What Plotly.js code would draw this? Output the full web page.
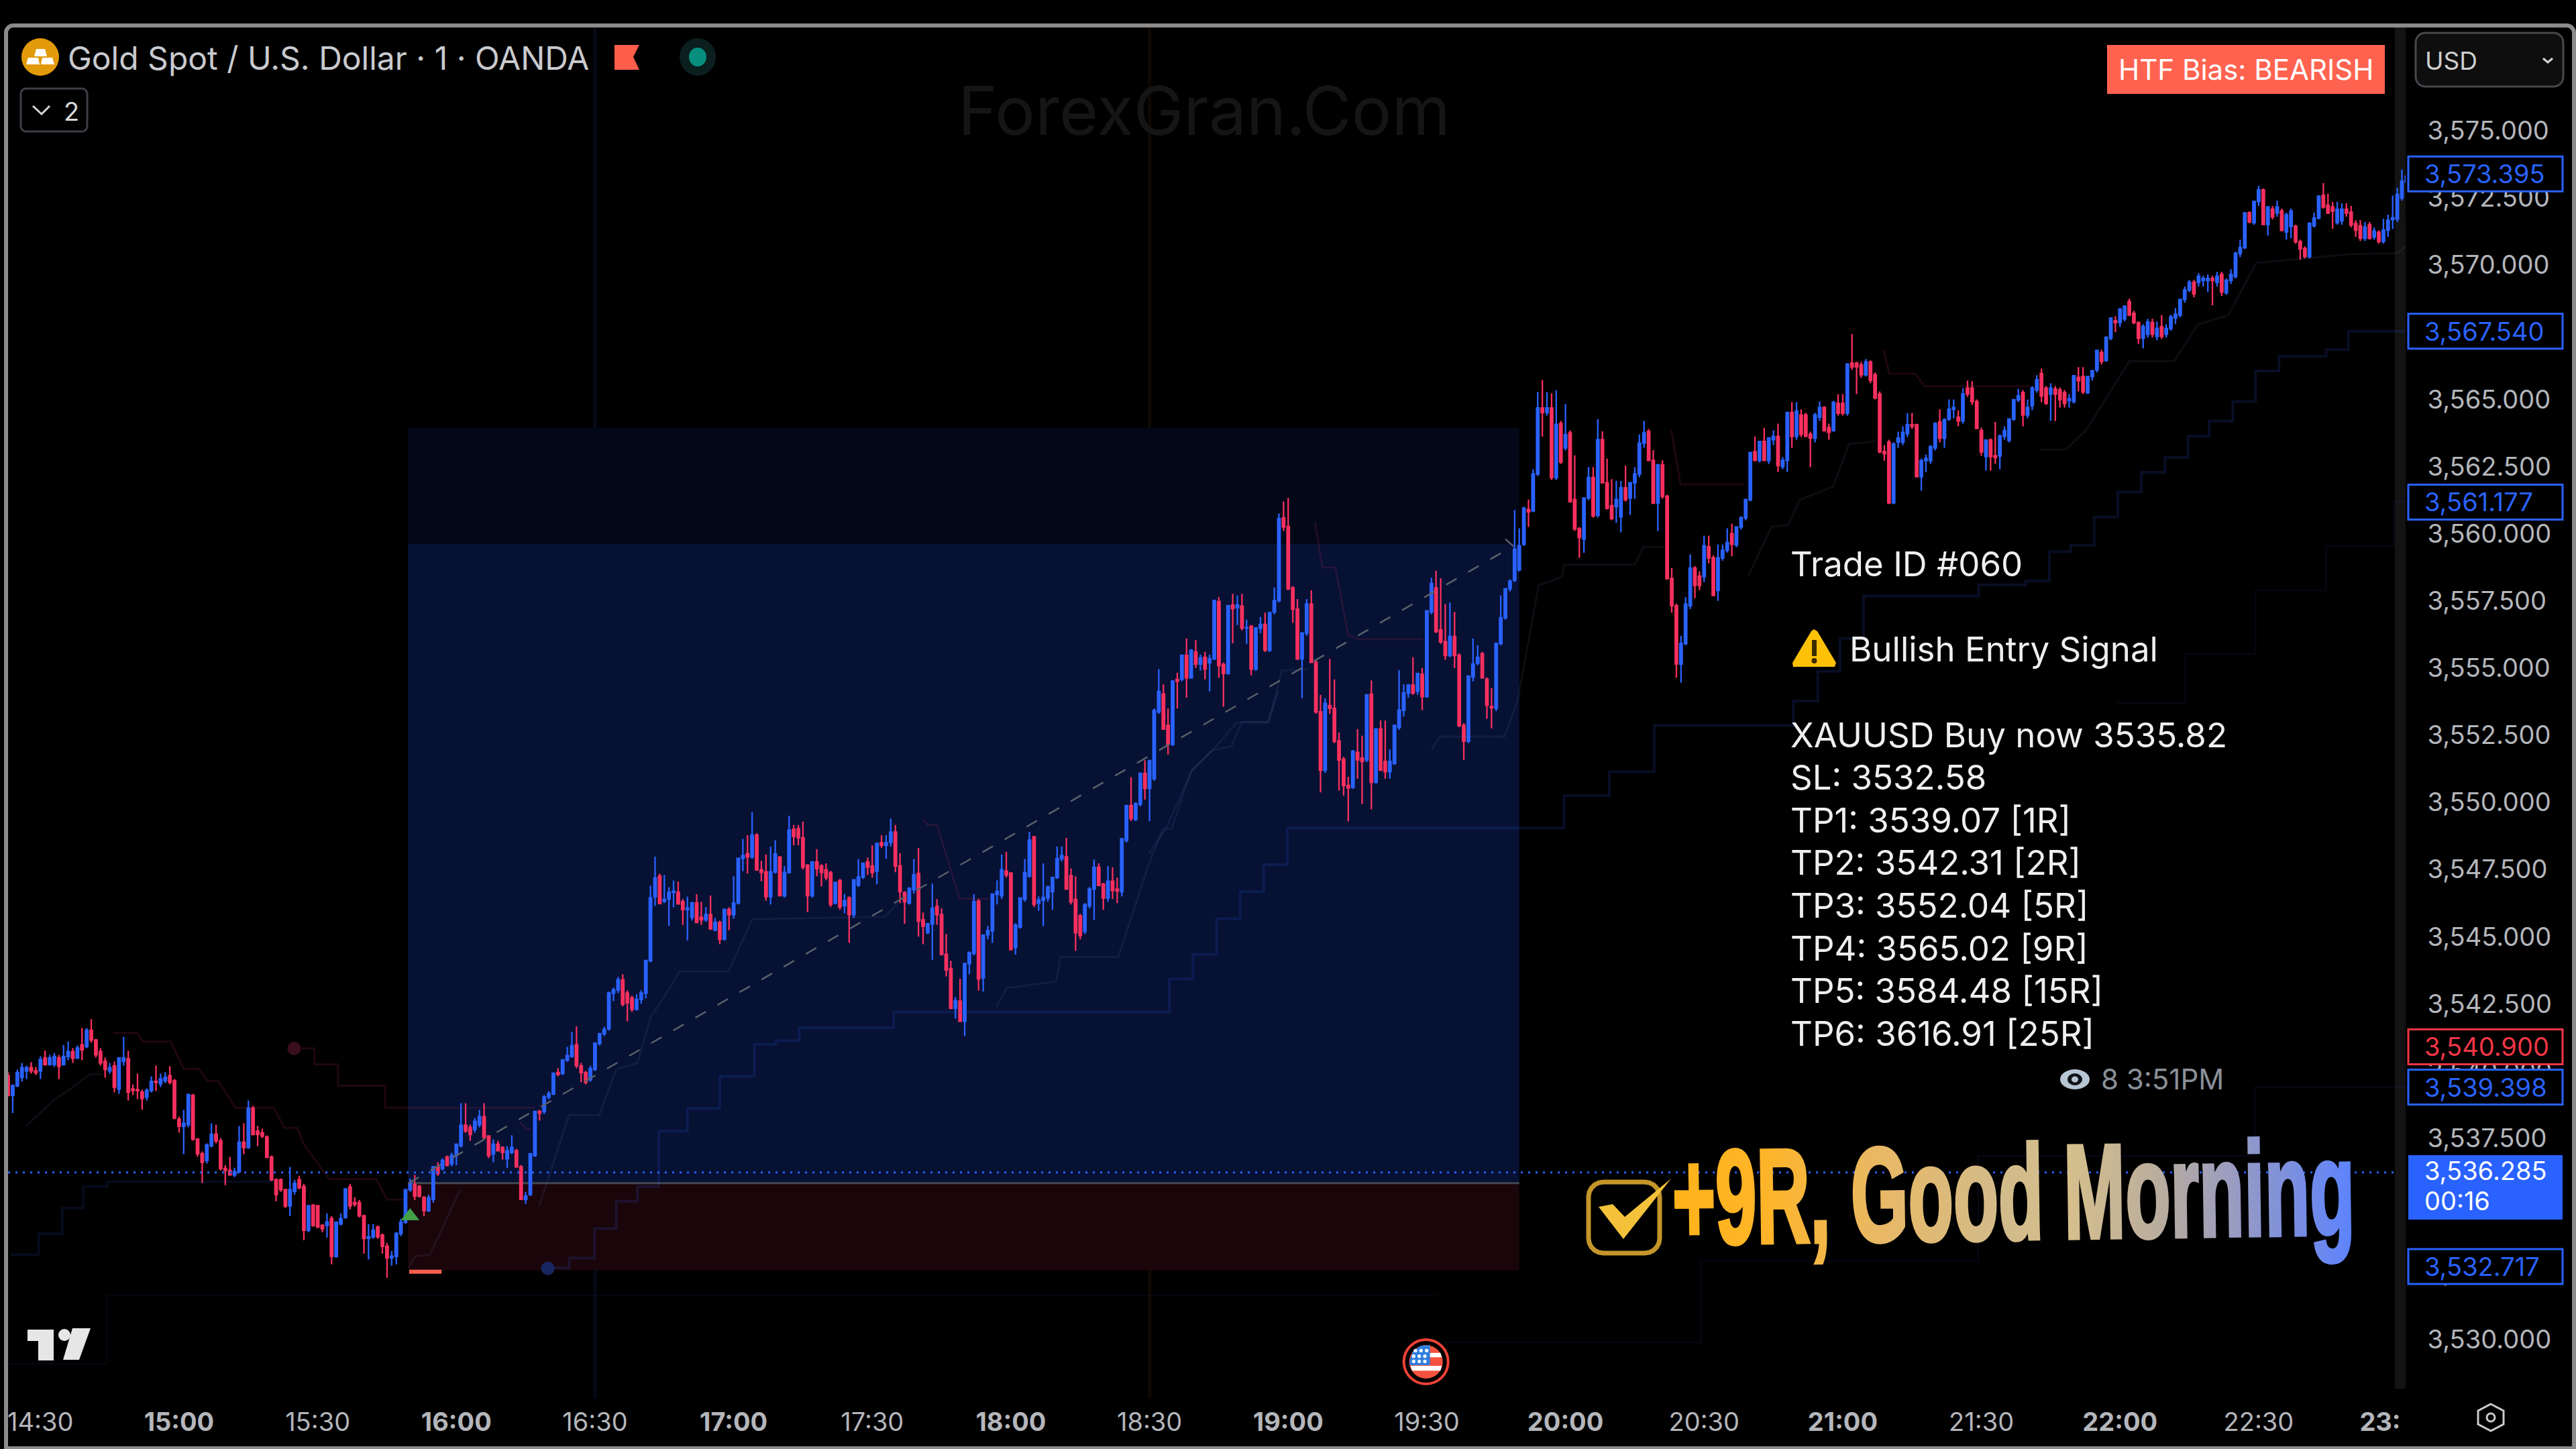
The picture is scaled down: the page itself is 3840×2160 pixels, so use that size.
<!DOCTYPE html>
<html><head><meta charset="utf-8">
<script src="https://cdn.plot.ly/plotly-3.0.1.min.js"></script>
<style>
html,body{margin:0;padding:0;background:#000;width:3840px;height:2160px;overflow:hidden}
#chart{position:absolute;left:0;top:0;width:3840px;height:2160px}
#frame{position:absolute;left:6px;top:35px;width:3822px;height:2115px;border:6px solid #8b8b8b;border-radius:14px 14px 0 0;pointer-events:none}
#big{position:absolute;left:2493px;top:1686px;font:bold 166px "Liberation Sans Narrow","Liberation Sans",sans-serif;white-space:nowrap;line-height:1.2;transform-origin:left center;-webkit-text-stroke:5px transparent;
background:linear-gradient(90deg,#ffb31a 0%,#fdb429 14%,#e9b864 30%,#d2bb8b 48%,#d6bf8c 58%,#b7ac9f 72%,#9a9cc0 82%,#5b82ff 100%);-webkit-background-clip:text;background-clip:text;color:transparent}
</style></head><body>
<div id="chart"></div><div id="big">+9R, Good Morning</div><div id="frame"></div>
<script>
// Candles: one row per minute, [open, high, low, close], price minus priceBase. First row is 14:23.
const priceBase = 3500;
const firstBarMinute = -37; // minutes relative to 15:00
const barsA = [
[39.82,39.95,39.05,39.09],[39.09,39.5,38.43,39.45],[39.45,40.05,39.4,39.94],[39.76,40.3,39.6,40.12],[40,40.2,39.7,40.12],[40.12,40.33,39.9,40.0],[40.0,40.15,39.85,39.94],[40.0,40.55,39.7,40.42],[40.48,40.76,40.2,40.24],[40.24,40.6,40.2,40.48],
[40.24,40.67,40.15,40.54],[40.48,40.6,39.7,40.18],[40.24,40.97,40.2,40.54],[40.54,41.1,40.4,40.72],[40.72,40.85,40.3,40.48],[40.48,40.95,40.45,40.85],[40.97,41.6,40.4,40.79],[40.91,41.6,40.85,41.51],[41.51,41.93,41.05,41.15],[41.15,41.2,40.5,40.6],
[40.72,40.85,40.2,40.3],[40.36,40.5,39.75,40.06],[40,40.3,39.9,40.12],[40.18,40.35,39.2,39.4],[39.33,40.5,39.15,40.48],[40.36,41.27,40.2,40.48],[40.45,40.75,38.9,39.21],[39.33,39.5,39.1,39.27],[39.3,39.9,38.95,39.27],[39.21,39.3,38.55,38.97],
[39.03,39.35,38.9,39.27],[39.27,39.8,39.2,39.61],[39.61,40.2,39.25,39.58],[39.52,39.9,39.4,39.7],[39.64,39.95,39.55,39.76],[39.82,40.18,39.5,39.58],[39.64,39.7,38.2,38.25],[38.2,38.3,37.7,37.94],[37.94,38.55,36.9,38.05],[38.0,39.15,37.9,39.12],
[39.09,39.15,37.4,37.46],[37.46,37.5,36.8,36.92],[36.92,37.0,35.83,36.6],[36.67,37.3,36.55,37.24],[37.22,38.05,37.15,37.64],[37.64,38.0,37.3,37.4],[37.4,37.5,36.3,36.37],[36.37,36.5,35.75,36.3],[36.3,36.8,36.1,36.13],[36.13,36.4,36.05,36.25],
[36.25,37.95,36.2,37.34],[37.34,38.05,36.9,37.15],[37.15,38.9,37.1,38.61],[38.61,38.7,37.6,37.64],[37.76,37.95,37.2,37.64],[37.7,37.85,37.5,37.58],[37.54,37.6,36.75,36.79],[36.79,36.85,35.9,35.95],[35.95,36.0,35.15,35.4],[35.95,36.0,35.5,35.58],
[35.58,35.6,34.9,34.98],[34.98,36.43,34.6,35.58],[35.52,35.95,35.4,35.82],[35.95,36.1,35.6,35.65],[35.7,35.8,33.7,34.07],[34.07,34.95,34.0,34.98],[35.0,35.05,34.2,34.25],[34.98,35.0,34.15,34.19],[34.25,34.3,34.0,34.13],[34.25,34.7,33.8,34.37],
[34.5,34.6,32.8,33.1],[33.1,34.4,33.05,34.37],[34.31,34.7,34.25,34.5],[34.55,35.65,34.5,35.6],[35.68,35.8,34.85,34.98],[35.1,35.3,34.95,35.04],[35.1,35.2,34.55,34.61],[34.61,34.65,33.2,33.77],[33.77,34.3,32.98,33.83],[33.83,34.3,33.75,34.07],
[34.19,34.25,33.75,33.83],[33.89,33.95,33.2,33.47],[33.47,33.6,32.3,33.04],[33.04,33.3,32.75,33.1],[33.1,34.0,32.8,33.95],[33.95,34.5,33.85,34.37],[34.37,35.6,34.3,35.58],[35.58,36.0,35.5,35.82],[35.76,36.13,35.2,35.34],[35.7,35.75,35.3,35.34]
];
const barsB = [
[35.28,35.35,34.6,34.8],[34.8,35.4,34.75,35.28],[35.22,36.45,35.1,36.43],[36.43,36.6,36.1,36.19],[36.37,36.75,36.3,36.67],[36.79,36.85,36.45,36.49],[36.55,36.95,36.45,36.85],[36.85,37.3,36.5,37.27],[37.22,38.8,37.15,37.98],[37.98,38.8,37.7,37.76],
[37.9,38.0,37.4,37.64],[37.82,38.25,37.7,38.12],[38.0,38.55,37.9,38.3],[38.3,38.8,37.5,37.52],[37.58,37.6,36.75,36.85],[36.91,37.45,36.6,37.27],[37.27,37.4,37.0,37.03],[37.15,37.2,36.7,36.97],[36.73,37.2,36.4,37.03],[36.97,37.6,36.9,37.15],
[37.03,37.1,36.4,36.43],[36.43,36.5,35.2,35.22],[35.22,35.5,35.05,35.34],[35.4,36.95,35.35,36.91],[36.85,38.5,36.8,38.49],[38.49,38.55,38.15,38.43],[38.49,39.1,38.4,39.03],[39.03,39.25,38.95,39.15],[39.15,39.95,39.1,39.91],[39.94,40.1,39.8,39.88],
[39.91,40.45,39.85,40.4],[40.4,40.9,40.35,40.57],[40.54,41.45,40.5,40.93],[40.97,41.66,40.1,40.2],[40.18,40.3,39.58,39.94],[39.94,40.0,39.5,39.58],[39.67,40.2,39.6,40.08],[40.06,41.05,40.0,41.03],[41.03,41.4,40.95,41.39],[41.39,41.65,41.3,41.54],
[41.57,42.95,41.5,42.9],[42.9,43.1,42.6,43.02],[43.02,43.5,42.9,43.39],[43.39,43.6,42.4,42.48],[42.9,43.0,41.85,42.54],[42.72,42.8,42.2,42.3],[42.3,42.85,42.25,42.66],[42.66,43.0,42.5,42.9],[42.9,44.1,42.7,44.11],[44.1,46.9,44.05,46.44],
[46.49,47.98,46.15,47.19],[47.25,47.35,46.2,46.24],[46.32,47.3,46.25,46.38],[46.4,46.84,45.4,46.65],[46.65,47.09,46.09,46.69],[46.65,47.05,46.2,46.22],[46.3,46.4,45.44,46.01],[46.01,46.49,44.86,46.06],[45.72,46.3,45.6,46.25],[46.25,46.58,45.5,45.53],
[45.72,46.3,45.44,45.63],[45.63,46.1,45.55,45.82],[45.82,46.53,45.25,45.29],[45.24,45.7,45.2,45.53],[45.53,45.6,44.72,44.91],[44.91,46.05,44.85,46.01],[46.01,46.1,45.24,45.82],[45.82,47.25,45.67,46.25],[46.25,47.95,46.2,47.92],[47.92,48.64,47.44,48.02],
[48.09,48.78,47.35,47.97],[47.97,49.64,47.9,48.78],[48.78,48.85,47.45,47.49],[47.49,47.82,47.06,47.39],[47.41,48.06,46.34,46.49],[46.49,48.35,46.2,47.41],[47.41,48.59,47.35,48.08],[47.96,48.0,46.5,46.53],[46.53,47.63,46.45,47.39],[47.39,49.5,47.35,48.97],
[48.99,49.16,48.4,48.73],[49.02,49.16,48.4,48.68],[48.68,49.28,47.5,47.59],[47.66,47.7,45.91,46.53],[46.53,47.8,46.45,47.78],[47.78,48.26,47.25,47.54],[47.63,47.7,46.87,47.39],[47.49,47.73,47.1,47.2],[47.39,47.45,46.1,46.2],[46.25,47.05,46.2,47.01]
];
const barsC = [
[47.09,47.15,46.0,46.1],[46.15,46.58,45.87,46.34],[46.44,46.5,44.77,45.82],[45.82,47.1,45.7,47.11],[46.92,47.89,46.85,47.22],[47.22,47.75,47.15,47.73],[47.78,47.95,47.3,47.59],[47.63,48.4,47.2,47.39],[47.44,48.5,46.95,48.47],[48.49,48.78,48.3,48.4],
[48.4,48.78,47.9,48.49],[48.51,49.4,48.35,48.89],[48.89,49.16,47.4,47.63],[47.63,48.11,46.25,46.68],[46.63,46.7,45.48,46.3],[46.25,46.85,46.2,46.79],[46.75,47.89,46.6,47.3],[47.35,48.3,45.0,45.58],[45.63,45.9,44.72,45.39],[45.15,45.5,45.1,45.48],
[45.48,46.97,44.14,46.06],[46.12,46.4,45.44,45.82],[45.82,46.06,44.3,44.34],[44.34,45.1,43.52,43.76],[43.81,44.1,42.3,42.33],[42.33,42.75,41.95,42.61],[42.6,43.43,41.85,41.85],[41.85,44.0,41.3,44.0],[44.0,44.45,43.6,44.4],[44.38,46.58,44.3,46.3],
[46.32,46.4,42.99,43.43],[43.47,45.05,42.95,45.05],[45.07,45.4,44.9,45.22],[45.22,46.6,44.77,46.58],[46.58,47.1,46.2,46.68],[46.53,48.06,46.4,47.49],[47.44,48.16,47.2,47.3],[47.37,47.4,44.5,44.52],[44.6,45.5,44.33,45.43],[45.36,46.45,45.3,46.44],
[46.39,47.89,46.3,47.39],[47.25,48.9,47.2,48.59],[48.71,48.75,46.1,46.2],[46.25,46.5,45.96,46.36],[46.36,47.73,45.39,46.46],[46.44,46.9,46.3,46.85],[46.68,47.2,46.0,47.2],[47.2,48.35,47.15,47.9],[47.9,48.35,47.8,48.02],[47.97,48.68,46.75,46.77],
[47.27,47.54,46.2,46.3],[46.39,47.25,44.47,45.15],[45.77,45.85,44.9,45.05],[45.2,46.25,45.1,46.18],[46.15,46.85,46.05,46.77],[46.77,47.87,45.62,47.58],[47.58,47.73,46.9,46.91],[46.96,47.0,46.0,46.44],[46.44,47.63,46.3,47.06],[47.06,47.58,46.4,46.72],
[46.77,47.2,46.25,46.7],[46.68,48.65,46.5,48.64],[48.59,49.9,48.5,49.88],[49.88,50.93,49.3,49.4],[49.37,50.0,49.3,49.95],[49.93,51.1,49.85,51.08],[51.08,51.57,50.1,50.52],[50.52,51.55,49.3,51.55],[50.88,53.5,50.8,53.42],[53.37,54.96,53.3,54.13],
[54.03,54.39,52.7,52.73],[52.86,53.5,51.78,52.16],[52.16,54.55,52.1,54.51],[54.58,54.83,53.5,54.51],[54.58,55.5,54.5,55.47],[55.47,56.1,53.9,54.64],[54.64,55.7,54.6,55.66],[55.6,56.04,55.0,55.15],[55.15,55.5,54.9,55.37],[55.4,55.6,54.58,54.96],
[55.2,55.5,54.13,55.34],[55.34,57.55,55.3,57.51],[57.47,57.64,54.64,55.09],[55.13,55.2,53.56,54.8],[54.8,57.35,54.75,57.32],[57.34,57.76,55.92,57.21],[57.25,57.7,56.6,57.34],[57.3,57.76,56.4,56.49],[56.49,56.8,55.9,56.5],[56.55,56.6,54.73,54.96]
];
const barsD = [
[54.96,56.5,54.9,56.49],[56.49,56.9,56.3,56.62],[56.62,57.06,55.6,55.66],[55.66,57.1,55.6,57.06],[57.09,58.0,57.0,57.51],[57.51,60.75,57.45,60.56],[60.59,61.2,60.1,60.25],[60.27,61.33,57.9,57.95],[57.98,58.05,56.68,57.19],[57.19,57.57,55.3,55.34],
[55.34,56.3,53.88,56.3],[56.3,57.57,56.2,57.38],[57.38,57.89,55.2,55.21],[55.21,55.3,53.3,53.37],[53.37,54.0,50.37,51.2],[51.2,53.88,51.1,53.68],[53.6,55.34,53.3,53.5],[53.5,54.58,52.2,52.28],[52.28,52.6,50.44,51.58],[51.6,51.7,50.25,50.63],
[50.63,50.95,49.29,50.54],[50.56,51.95,50.5,51.9],[51.86,52.73,50.88,51.58],[51.65,52.48,49.93,51.52],[51.58,54.0,51.5,54.0],[54.03,54.54,49.74,50.75],[50.75,52.75,50.7,52.73],[52.73,53.05,51.2,51.2],[51.52,53.05,50.88,51.14],[51.14,51.97,50.88,51.52],
[51.45,52.9,51.4,52.86],[52.79,54.92,52.7,53.43],[53.43,54.39,53.2,54.07],[54.07,54.4,53.9,54.36],[54.36,55.4,54.0,54.07],[54.14,54.8,54.0,54.79],[54.77,55.0,53.43,53.94],[53.94,57.15,53.9,57.13],[57.09,58.36,57.0,58.14],[57.98,58.62,56.3,56.36],
[56.42,58.34,55.9,55.98],[55.98,57.38,55.3,55.47],[55.47,57.44,55.4,56.17],[56.17,57.09,55.0,55.47],[55.47,55.55,52.8,52.86],[52.86,52.95,51.58,52.28],[52.28,54.7,52.2,54.7],[54.67,56.1,54.5,55.15],[55.18,55.85,55.1,55.4],[55.53,55.6,54.6,54.64],
[54.58,54.65,53.11,53.62],[53.56,54.26,52.75,53.52],[53.5,55.95,53.4,55.91],[55.91,57.7,55.85,56.87],[56.87,57.98,56.8,57.95],[57.95,58.3,57.85,58.23],[58.27,60.88,58.2,59.42],[58.65,60.2,58.6,59.55],[59.61,61.0,59.55,60.95],[60.9,61.27,60.25,60.82],
[60.85,62.4,60.8,62.22],[62.22,65.28,62.15,64.68],[64.68,65.72,63.62,64.51],[64.51,65.28,64.4,64.68],[64.68,65.22,62.0,62.09],[62.09,65.34,62.0,64.07],[64.1,64.2,62.6,62.67],[63.2,64.83,63.1,63.69],[63.75,63.85,61.15,61.2],[61.27,62.92,60.1,60.18],
[60.18,60.25,59.1,59.86],[59.8,61.35,59.29,61.33],[61.33,62.48,61.25,62.09],[62.09,62.48,60.6,60.66],[60.69,64.26,60.6,63.5],[63.5,63.81,61.9,61.9],[61.9,62.8,60.9,60.95],[61.04,62.03,60.5,60.57],[61.01,61.97,60.4,61.27],[60.63,61.97,60.05,61.71],
[61.71,62.54,61.2,61.27],[61.33,61.9,60.7,61.9],[61.9,62.48,61.3,62.22],[62.22,63.7,62.1,63.37],[63.37,64.2,63.2,63.75],[63.81,63.9,62.7,62.73],[62.73,63.11,61.1,61.14],[61.14,62.6,60.1,62.56],[62.56,62.73,61.3,61.39],[61.39,61.45,58.3,58.33]
];
const barsE = [
[58.33,58.72,57.06,57.32],[57.32,57.4,54.64,55.15],[55.15,56.2,54.45,55.91],[55.91,57.64,55.85,57.38],[57.32,59.23,57.2,58.72],[58.72,58.8,57.6,58.08],[58.42,58.6,57.9,58.08],[58.4,59.93,58.2,59.55],[59.51,59.93,58.9,59.1],[59.1,59.2,57.7,57.7],
[57.89,59.6,57.5,59.1],[59.1,59.6,59.0,59.38],[59.38,60.2,59.3,59.67],[60.0,60.37,59.16,59.61],[59.58,60.25,59.5,60.25],[60.25,60.65,60.15,60.59],[60.59,61.3,60.5,61.27],[61.27,63.05,61.2,63.02],[63.05,63.62,62.75,62.73],[62.73,63.45,62.65,63.43],
[63.43,63.94,62.7,62.73],[62.73,63.6,62.6,63.56],[63.5,63.85,63.3,63.62],[63.62,64.1,62.3,62.54],[62.5,62.85,62.4,62.73],[62.73,64.53,62.3,64.51],[64.51,64.9,63.2,63.62],[63.63,64.9,63.5,64.56],[64.42,64.63,63.6,63.7],[64.42,64.5,63.6,63.63],
[63.7,63.8,62.48,63.56],[63.56,64.5,63.4,64.42],[64.34,64.92,64.2,64.7],[64.7,64.75,63.8,63.84],[63.95,64.1,63.5,63.77],[63.84,64.95,63.8,64.89],[64.85,65.2,64.4,64.49],[64.85,65.2,64.4,64.49],[64.49,66.35,64.4,66.31],[66.35,67.43,66.1,66.21],
[66.35,66.4,65.2,66.21],[66.28,66.4,65.8,65.92],[65.92,66.5,65.85,66.39],[66.39,66.45,65.6,65.71],[65.92,66.0,65.0,65.06],[65.2,65.3,63.0,63.05],[63.05,63.3,62.72,62.98],[63.41,63.5,61.1,61.15],[61.15,63.4,61.1,63.34],[63.41,63.8,63.2,63.56],
[63.41,64.0,63.3,63.77],[63.73,64.49,63.6,64.06],[64.06,64.5,63.9,64.0],[64.06,64.1,62.1,62.12],[62.12,62.8,61.6,62.72],[62.72,62.95,62.3,62.8],[62.72,63.3,62.6,63.24],[63.2,64.15,63.1,64.1],[64.16,64.63,63.4,63.56],[63.56,64.3,63.2,64.24],
[64.27,65.0,64.2,64.63],[64.63,65.0,64.3,64.7],[64.34,64.6,64.0,64.2],[64.2,65.42,64.1,65.2],[65.42,65.7,65.1,65.2],[65.42,65.68,64.8,64.92],[64.92,65.0,63.9,63.92],[63.84,63.95,62.9,63.05],[62.87,63.5,62.35,63.48],[63.48,63.55,62.35,62.87],
[62.9,64.16,62.6,62.84],[62.9,63.7,62.4,63.63],[63.63,64.0,63.5,63.84],[63.48,64.3,63.4,64.27],[64.27,65.0,64.2,64.99],[64.99,65.4,64.9,65.13],[65.25,65.35,64.0,64.42],[64.42,65.0,64.3,64.7],[64.77,65.5,64.6,65.42],[65.35,65.9,65.25,65.73],
[65.96,66.15,64.9,65.13],[65.42,65.5,64.8,64.85],[65.2,65.6,64.2,65.42],[65.39,65.5,64.2,65.2],[65.35,65.45,64.7,64.99],[65.25,65.35,64.7,64.85],[64.96,65.2,64.7,65.02],[64.92,65.9,64.85,65.88],[65.82,66.2,65.3,65.7],[65.85,66.2,65.2,65.28]
];
const barsF = [
[65.25,65.85,65.2,65.85],[65.85,66.1,65.7,66.06],[66.1,66.85,66.0,66.82],[66.74,66.85,66.3,66.42],[66.45,67.35,66.4,67.31],[67.28,68.05,67.2,68.03],[67.93,68.1,67.5,67.86],[67.86,68.4,67.7,68.36],[68.0,68.5,67.9,68.47],[68.64,68.75,68.1,68.14],
[68.2,68.3,67.8,67.86],[67.86,67.9,67.07,67.28],[67.28,67.8,66.9,67.71],[67.43,68.0,67.3,67.88],[67.86,68.0,67.3,67.43],[67.35,67.9,67.2,67.64],[67.71,68.14,67.25,67.35],[67.43,67.8,67.3,67.64],[67.64,68.15,67.55,68.07],[68.03,68.4,67.8,68.17],
[68.14,68.75,68.05,68.72],[68.72,69.2,68.6,69.07],[69.07,69.45,69.0,69.36],[69.36,69.45,68.8,68.93],[69.36,69.7,69.2,69.58],[69.43,69.6,69.2,69.5],[69.43,69.65,69.0,69.5],[69.5,69.6,68.5,69.43],[69.36,69.75,69.2,69.58],[69.65,69.75,68.85,69.0],
[68.97,69.5,68.9,69.43],[69.43,69.85,69.3,69.65],[69.58,70.5,69.5,70.44],[70.44,70.95,70.3,70.65],[70.65,71.95,70.6,71.94],[71.94,72.0,71.55,71.61],[71.58,72.4,71.5,72.37],[72.37,72.95,72.2,72.8],[72.8,72.85,71.5,71.51],[71.51,72.2,71.1,72.16],
[72.08,72.2,71.7,71.8],[71.94,72.4,71.8,72.16],[72.01,72.1,71.25,71.3],[71.23,71.95,70.95,71.87],[71.44,72.1,71.0,72.01],[71.44,71.5,70.8,70.87],[70.87,70.95,70.2,70.61],[70.61,70.7,70.25,70.32],[70.32,71.6,70.25,71.55],[71.47,71.95,71.4,71.75],
[71.75,72.6,71.7,72.56],[72.59,73.05,72.1,72.16],[72.23,72.66,71.9,71.94],[72.16,72.35,71.35,72.01],[71.58,72.35,71.5,72.08],[71.65,72.3,71.5,72.08],[72.08,72.3,71.8,71.94],[71.97,72.2,71.4,71.5],[71.55,71.67,71.05,71.3],[71.46,71.67,70.9,71.0],
[71.0,71.6,70.9,71.42],[71.5,71.6,70.95,71.0],[71.05,71.4,70.95,71.26],[71.22,71.3,70.8,70.88],[70.88,71.72,70.8,71.3],[71.3,71.88,71.05,71.67],[71.7,72.59,71.34,71.76],[71.72,72.88,71.6,72.63],[72.5,73.55,72.4,73.12],[73.09,73.88,72.63,73.31]
];

// Faint indicator lines, x in minutes after 15:00, y as price minus priceBase
const stepMainMin = [79.8,84.4,89.9,94.6,99.2,103.8,110,117,124.5,129.1,134.2,154.6,214.3,219.4,224.5,229.6,234.7,239.8,299.7,309.5,319.2,349.3,354.6,359.4,364.5,389.4,399.6,404.7,409.3,414.4,419.5,424.6,429.7,434.7,439.3,444.4,449.3,454.4,464.6,469.4,482.1];
const stepMainVal = [32.67,33.04,34.13,35.15,35.7,37.76,38.6,39.8,40.99,41.13,41.61,42.19,43.43,44.34,45.67,46.68,47.68,49.04,50.25,51.14,52.86,53.77,54.88,56.1,57.68,58.1,58.25,59.33,59.57,60.62,61.55,62.29,62.84,63.63,64.2,64.92,66.06,66.6,66.85,67.54,67.54];
const stepHighMin = [419.2,434.2,449.3,464.6,479.3,482.1];
const stepHighVal = [53.69,55.53,57.89,59.54,61.18,61.18];
const stepLowMin = [273,329.3,389.3,449.2,482.1];
const stepLowVal = [29.9,32.94,36.84,39.4,39.4];
const stepLeftMin = [-36.5,-30.4,-25.3,-20.7,-15.6,20.5];
const stepLeftVal = [33.16,33.94,34.9,35.7,35.88,35.88];
const stepBaseMin = [-37,-31.5,-15.6,272];
const stepBaseVal = [29.1,29.1,31.64,31.64];
const curveMin = [-33.2,-26.7,-23.5,-19.3,-16.5,null,49.7,51.05,54.3,60.8,null,77.9,84.4,90.9,94.6,99.2,102,106.4,108.3,118.9,124,152.7,155.5,null,176.8,179.1,189.8,190.7,203.2,209.7,212.9,214.8,218.9,223.6,227.7,230,235.6,237.9,null,209.9,213.6,219.2,223.8,228.9,235.8,238.6,244.2,null,271,272.9,286.8,289.6,294.2,299.3,299.7,315,316.9,321.5,null,339.5,344.6,348.2,350.7,357.9,361.4,367,null,402.7,408.3,412.9,422,431.7,436.8,443.4,449.5,469.9,480.1,483];
const curveVal = [37.94,38.97,39.33,39.88,39.88,null,32.67,33.1,33.16,35.58,null,34.97,38.36,38.36,40.06,40.3,41.99,43.14,43.71,43.71,45.65,45.74,46.25,null,42.38,43.09,43.33,44.24,44.24,47.63,49.02,49.02,51.12,51.94,52.08,52.99,52.99,54.15,null,48.1,49.04,51.2,51.97,52.98,52.98,54.9,54.96,null,51.97,52.45,52.45,53.75,58.08,58.4,58.85,58.85,59.51,59.51,null,58.4,60.26,60.33,61.26,61.76,63.34,63.44,null,63.13,63.13,63.91,66.42,66.42,67.78,68.14,70.08,70.41,70.44,70.87];
const redMin = [-14.3,-9.1,-7.8,-1.8,1,4.3,6.1,8.5,12.2,20.5,22.8,25.6,27,32.5,42.7,45,48.7,null,24.9,29.3,29.3,34.4,34.4,44.6,44.6,77,null,73.7,75.1,76,null,161,162,164,168.9,175.4,null,245.8,247.4,250.2,253,255.3,269.2,null,322.9,324.9,338.6,null,368.8,370.1,375.7,377.7,400.6];
const redVal = [41.41,41.41,41.09,41.09,40.08,40.08,39.63,39.63,38.63,38.63,37.88,37.88,37.27,35.97,35.97,35.21,35.21,null,40.84,40.84,40.24,40.24,39.45,39.45,38.63,38.63,null,38.12,37.84,37.84,null,49.35,49.16,49.16,46.41,46.41,null,60.44,58.74,58.74,56.23,56.07,56.07,null,63.88,61.84,61.84,null,66.85,65.96,65.96,65.49,65.49];
const tradeLineMin = [49.6,288.7,null,287,288.7];
const tradeLineVal = [35.82,59.54,null,59.8,59.54];
const signalMin = [50]; const signalVal = [34.59];
const dotMin = [24.9,79.8]; const dotVal = [40.84,32.65];

// Trade box
const boxStart = 49.5, boxEnd = 290;
const boxTop = 63.94, boxMid = 59.62, entryPrice = 35.82, stopPrice = 32.58;
const currentPrice = 36.22;

// Axes
const priceTicks = [3530,3532.5,3535,3537.5,3540,3542.5,3545,3547.5,3550,3552.5,3555,3557.5,3560,3562.5,3565,3567.5,3570,3572.5,3575];
const timeTickMin = [-30,0,30,60,90,120,150,180,210,240,270,300,330,360,390,420,450,480];
const timeTickText = ['14:30','<b>15:00</b>','15:30','<b>16:00</b>','16:30','<b>17:00</b>','17:30','<b>18:00</b>','18:30','<b>19:00</b>','19:30','<b>20:00</b>','20:30','<b>21:00</b>','21:30','<b>22:00</b>','22:30','<b>23:00</b>'];

// Right-hand price labels
const levelPrices = [3573.395,3567.540,3561.177,3539.398,3532.717];
const levelRed = [3540.900];
const lastPrice = 3536.285, lastCountdown = '00:16';

// Text block
const tradeLines = ['XAUUSD Buy now 3535.82','SL: 3532.58','TP1: 3539.07 [1R]','TP2: 3542.31 [2R]','TP3: 3552.04 [5R]','TP4: 3565.02 [9R]','TP5: 3584.48 [15R]','TP6: 3616.91 [25R]'];

const W=3840,H=2160,L=10,R=3586,T=40,B=2085;
const fx=x=>(x-L)/(R-L), fy=y=>1-(y-T)/(B-T);
const toTime=m=>m===null?null:new Date(Date.UTC(2025,8,5,15,0)+m*60000).toISOString().slice(0,19).replace('T',' ');
const toPrice=v=>v===null?null:v+priceBase;
const font='Inter, "Noto Sans", sans-serif';

const bars=[...barsA,...barsB,...barsC,...barsD,...barsE,...barsF];
const barTimes=bars.map((b,i)=>toTime(firstBarMinute+i));

function faint(xs,ys,color,w,shape,extra){return Object.assign({type:'scatter',mode:'lines',x:xs.map(toTime),y:ys.map(toPrice),connectgaps:false,line:{color,width:w,shape:shape||'linear'},hoverinfo:'skip',showlegend:false},extra||{});}

const traces=[
 faint(stepBaseMin,stepBaseVal,'rgba(60,80,200,0.07)',3,'hv'),
 faint(stepLeftMin,stepLeftVal,'rgba(45,85,220,0.13)',4,'hv'),
 faint(stepLowMin,stepLowVal,'rgba(60,80,200,0.08)',3,'hv'),
 faint(stepHighMin,stepHighVal,'rgba(60,80,200,0.08)',3,'hv'),
 faint(stepMainMin,stepMainVal,'rgba(45,85,220,0.17)',4,'hv'),
 faint(curveMin,curveVal,'rgba(130,150,220,0.09)',3),
 faint(redMin,redVal,'rgba(220,50,90,0.14)',3),
 {type:'scatter',mode:'lines',x:[firstBarMinute,480].map(toTime),y:[currentPrice,currentPrice].map(toPrice),line:{color:'#2962ff',width:3,dash:'3px,8px'},hoverinfo:'skip',showlegend:false},
 faint(tradeLineMin,tradeLineVal,'#596069',2.5,'linear',{line:{color:'#596069',width:2.5,dash:'18px,20px'}}),
 {type:'candlestick',x:barTimes,open:bars.map(b=>b[0]+priceBase),high:bars.map(b=>b[1]+priceBase),low:bars.map(b=>b[2]+priceBase),close:bars.map(b=>b[3]+priceBase),
  increasing:{line:{color:'#2a62ff',width:2.3},fillcolor:'#2a62ff'},decreasing:{line:{color:'#f7305f',width:2.3},fillcolor:'#f7305f'},whiskerwidth:0,hoverinfo:'skip',showlegend:false},
 {type:'scatter',mode:'markers',x:signalMin.map(toTime),y:signalVal.map(toPrice),marker:{symbol:'triangle-up',size:24,color:'#43a047'},hoverinfo:'skip',showlegend:false},
 {type:'scatter',mode:'markers',x:dotMin.map(toTime),y:dotVal.map(toPrice),marker:{size:20,color:['#3a0d1a','#182660']},hoverinfo:'skip',showlegend:false}
];

const shapes=[];
function dataRect(m0,m1,p0,p1,color,layer){shapes.push({type:'rect',xref:'x',yref:'y',x0:toTime(m0),x1:toTime(m1),y0:p0+priceBase,y1:p1+priceBase,fillcolor:color,line:{width:0},layer:layer||'below'});}
function vline(m,color){shapes.push({type:'line',xref:'x',yref:'paper',x0:toTime(m),x1:toTime(m),y0:0,y1:1,line:{color,width:5},layer:'below'});}
dataRect(boxStart,boxEnd,boxMid,boxTop,'#030818');
dataRect(boxStart,boxEnd,entryPrice,boxMid,'#061134');
dataRect(boxStart,boxEnd,stopPrice,entryPrice,'#1a050b');
shapes.push({type:'line',xref:'x',yref:'y',x0:toTime(boxStart),x1:toTime(boxEnd),y0:entryPrice+priceBase,y1:entryPrice+priceBase,line:{color:'#44484e',width:3},layer:'below'});
vline(90,'rgba(25,35,90,0.25)');vline(210,'rgba(70,35,15,0.22)');
dataRect(49.8,56.8,32.45,32.6,'#ff5e4d','above');
// paper-space helpers for chrome
const ppath=(pts,color,lineColor,lw)=>shapes.push({type:'path',xref:'paper',yref:'paper',path:'M'+pts.map(p=>fx(p[0])+' '+fy(p[1])).join(' L')+' Z',fillcolor:color||'rgba(0,0,0,0)',line:lineColor?{color:lineColor,width:lw||2}:{width:0},layer:'above'});
const pline=(pts,color,lw)=>shapes.push({type:'path',xref:'paper',yref:'paper',path:'M'+pts.map(p=>fx(p[0])+' '+fy(p[1])).join(' L'),line:{color,width:lw},layer:'above'});
const prect=(x0,y0,x1,y1,color,lineColor,lw,layer)=>shapes.push({type:'rect',xref:'paper',yref:'paper',x0:fx(x0),x1:fx(x1),y0:fy(y1),y1:fy(y0),fillcolor:color||'rgba(0,0,0,0)',line:lineColor?{color:lineColor,width:lw||2}:{width:0},layer:layer||'above'});
const pcirc=(cx,cy,rx,ry,color,lineColor,lw)=>shapes.push({type:'circle',xref:'paper',yref:'paper',x0:fx(cx-rx),x1:fx(cx+rx),y0:fy(cy+ry),y1:fy(cy-ry),fillcolor:color||'rgba(0,0,0,0)',line:lineColor?{color:lineColor,width:lw||2}:{width:0},layer:'above'});
const rrect=(x0,y0,x1,y1,r,color,lineColor,lw)=>{const q=[];const n=5;const arc=(cx,cy,a0)=>{for(let i=0;i<=n;i++){const a=a0+i/n*Math.PI/2;q.push([cx+r*Math.cos(a),cy+r*Math.sin(a)]);}};arc(x1-r,y0+r,-Math.PI/2);arc(x1-r,y1-r,0);arc(x0+r,y1-r,Math.PI/2);arc(x0+r,y0+r,Math.PI);ppath(q,color,lineColor,lw);};

// Gutter strip, drawn beneath candles
shapes.push({type:'rect',xref:'paper',yref:'paper',x0:fx(3570),x1:fx(3586),y0:fy(2070),y1:1,fillcolor:'#131313',line:{width:0},layer:'below'});
// 23:00 is cut off at the pane edge
prect(3578,2085,3680,2145,'#000');
// Gold icon
pcirc(60,85,28,28,'#e39a0a');
ppath([[54,73],[67,73],[70,84],[51,84]],'#fff');ppath([[42,86],[57,86],[59,96],[39,96]],'#fff');ppath([[63,86],[78,86],[81,96],[61,96]],'#fff');
ppath([[916,67],[953,67],[944,85],[953,104],[916,104]],'#ff5e4d');
pcirc(1040,85,27,28,'#0b201e');pcirc(1040,85,13,14,'#078f7d');
rrect(31,132,130,196,8,'#000','#3c3f45',3);
pline([[49,158],[62,170],[74,158]],'#d6d6d6',3);
prect(3141,67,3555,140,'#ff6350');
rrect(3601,49,3821,129,14,'#0e0e0e','#46484d',3);
pline([[3791,87],[3798,93],[3805,87]],'#d6d6d6',3);
// TradingView logo
ppath([[41,1982],[80,1982],[80,2028],[57,2028],[57,1999],[41,1999]],'#e6e6e6');pcirc(96,1990,9,9,'#e6e6e6');ppath([[108,1980],[135,1980],[118,2027],[94,2027]],'#e6e6e6');
// US flag badge
const zf=(a,b)=>[2050+a/3,1960+b/3];
pcirc(2125.7,2030,33,33,'rgba(0,0,0,0)','#ef4136',4);pcirc(2125.7,2030,25,25,'#f6523f');
ppath([[245,135],[205,138],[170,160],[155,200],[155,225],[245,225]].map(p=>zf(p[0],p[1])),'#2f7fe0');
ppath([[245,170],[292,170],[298,190],[245,190]].map(p=>zf(p[0],p[1])),'#fff');
ppath([[158,228],[298,228],[292,250],[165,250]].map(p=>zf(p[0],p[1])),'#fff');
[[180,160],[205,160],[230,160],[172,185],[197,185],[222,185],[172,208],[197,208],[222,208]].forEach(p=>{const c=zf(p[0],p[1]);pcirc(c[0],c[1],2.6,2.6,'#fff');});
// Gear
const gx=3713,gy=2113;
ppath([[gx,gy-20],[gx+19,gy-10],[gx+19,gy+10],[gx,gy+20],[gx-19,gy+10],[gx-19,gy-10]],null,'#c9c9c9',3);pcirc(gx,gy,6,6,null,'#c9c9c9',3);
// Warning sign
ppath([[2704,938],[2709,941],[2737,988],[2735,994],[2673,994],[2672,988],[2700,941]],'#ffc107');
prect(2701,954,2708,978,'#3a2b00');pcirc(2704.5,985,4,4,'#3a2b00');
// Eye
pcirc(3093,1609,22,15,'#b8c6d4');pcirc(3093,1609,11,9,'#10141a');pcirc(3093,1609,5,4.5,'#b8c6d4');
// Check-box badge
rrect(2368,1762,2474,1868,22,null,'#c4962a',7);
ppath([[2383,1799],[2404,1795],[2422,1814],[2491,1757],[2420,1847]],'#f3c23a');

// Price labels
const tickFont={family:font,size:38,color:'#b4b6bb'};
function levelBox(p,c){shapes.push({type:'rect',xref:'paper',yref:'y',ysizemode:'pixel',yanchor:p,y0:-26,y1:26,x0:fx(3590),x1:fx(3820),fillcolor:'#000',line:{color:c,width:3},layer:'above'});}
const ann=[];
const txt=(x,y,text,size,color,anchor,weight)=>ann.push({xref:'paper',yref:'paper',x:fx(x),y:fy(y),text,showarrow:false,xanchor:anchor||'left',yanchor:'middle',align:'left',font:{family:font,size,color,weight:weight||400}});
const fmt=v=>v.toLocaleString('en-US',{minimumFractionDigits:3,maximumFractionDigits:3});
levelPrices.forEach(p=>{levelBox(p,'#2962ff');ann.push({xref:'paper',yref:'y',x:fx(3612),y:p,text:fmt(p),showarrow:false,xanchor:'left',yanchor:'middle',font:{family:font,size:38,color:'#2962ff'}});});
levelRed.forEach(p=>{levelBox(p,'#f23645');ann.push({xref:'paper',yref:'y',x:fx(3612),y:p,text:fmt(p),showarrow:false,xanchor:'left',yanchor:'middle',font:{family:font,size:38,color:'#f23645'}});});
prect(3590,1722,3820,1818,'#2962ff');
txt(3612,1745,fmt(lastPrice),38,'#fff');txt(3612,1790,lastCountdown,38,'#fff');

txt(99,87,'Gold Spot / U.S. Dollar · 1 · OANDA',48,'#c9cace');
txt(93,166,'2',38,'#d8d8d8');
txt(1795,164,'ForexGran.Com',100,'#151515','center');
txt(3348,103,'HTF Bias: BEARISH',42,'#fff','center');
txt(3613,90,'USD',37,'#cfcfcf');
txt(2667,840,'Trade ID #060',51,'#efefef');
txt(2755,967,'Bullish Entry Signal',51,'#efefef');
tradeLines.forEach((s,i)=>txt(2667,1095+i*63.6,s,51,'#efefef'));
txt(3130,1608,'8 3:51PM',42,'#8b9098');

const layout={width:W,height:H,paper_bgcolor:'#000',plot_bgcolor:'rgba(0,0,0,0)',showlegend:false,hovermode:false,boxgap:0.28,
 margin:{l:L,r:W-R,t:T,b:H-B,pad:0},
 xaxis:{type:'date',range:[toTime(-37.3),toTime(481.8)],tickmode:'array',tickvals:timeTickMin.map(toTime),ticktext:timeTickText,ticks:'outside',ticklen:1,tickcolor:'rgba(0,0,0,0)',tickfont:{family:font,size:38,color:'#b4b6bb'},showgrid:false,zeroline:false,showline:false,rangeslider:{visible:false},fixedrange:true},
 yaxis:{side:'right',range:[3527.8,3578.87],tickmode:'array',tickvals:priceTicks,tickformat:',.3f',ticks:'outside',ticklen:24,tickcolor:'rgba(0,0,0,0)',tickfont:tickFont,showgrid:false,zeroline:false,showline:false,fixedrange:true},
 shapes,annotations:ann};
Plotly.newPlot('chart',traces,layout,{displayModeBar:false,staticPlot:true,responsive:false});

const big=document.getElementById('big');
const w=big.offsetWidth;
big.style.transform='rotate(-0.85deg) scale('+(1017/w)+',1.2)';
</script>
</body></html>
